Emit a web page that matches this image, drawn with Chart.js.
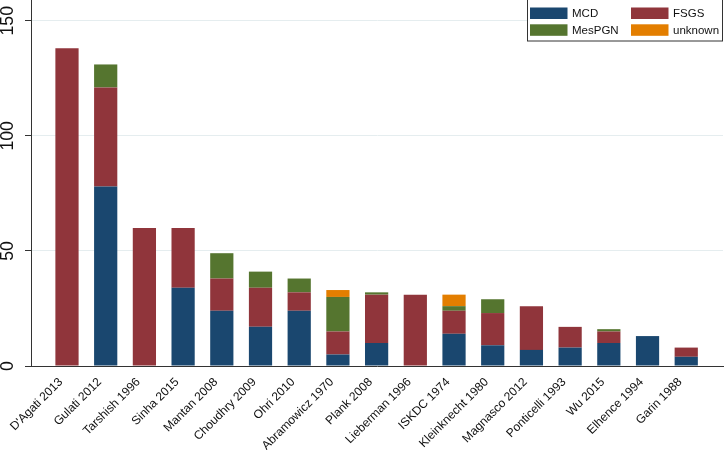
<!DOCTYPE html>
<html>
<head>
<meta charset="utf-8">
<script src="https://cdn.jsdelivr.net/npm/chart.js@4.4.1/dist/chart.umd.min.js"></script>
<style>
  html, body { margin: 0; padding: 0; background: #fff; }
  #chart { display: block; }
</style>
</head>
<body>
<canvas id="chart" width="724" height="450"></canvas>
<script>
// studies, in the order they are plotted
const studies = ["D'Agati 2013", "Gulati 2012", "Tarshish 1996", "Sinha 2015", "Mantan 2008",
  "Choudhry 2009", "Ohri 2010", "Abramowicz 1970", "Plank 2008", "Lieberman 1996",
  "ISKDC 1974", "Kleinknecht 1980", "Magnasco 2012", "Ponticelli 1993", "Wu 2015",
  "Elhence 1994", "Garin 1988"];
const mcd     = [0, 78, 0, 34, 24, 17, 24, 5, 10, 0, 14, 9, 7, 8, 10, 13, 4];
const fsgs    = [138, 43, 60, 26, 14, 17, 8, 10, 21, 31, 10, 14, 19, 9, 5, 0, 4];
const mespgn  = [0, 10, 0, 0, 11, 7, 6, 15, 1, 0, 2, 6, 0, 0, 1, 0, 0];
const unknown = [0, 0, 0, 0, 0, 0, 0, 3, 0, 0, 5, 0, 0, 0, 0, 0, 0];
const yTicks  = [0, 50, 100, 150];

const fam = "'Liberation Sans', Arial, sans-serif";
// pick a size so the text gets the width seen in the picture
function fitSize(text, target) {
  const c = document.createElement("canvas").getContext("2d");
  c.font = "100px " + fam;
  return 100 * target / c.measureText(text).width;
}
const xFont = fitSize("Abramowicz 1970", 96);
const yFont = fitSize("150", 29.5);
const legFont = 11.5;

// legend box in the top right corner, 2 x 2
const boxLegend = {
  id: "boxLegend",
  afterDraw(chart) {
    const ctx = chart.ctx;
    const ds = chart.data.datasets;
    ctx.save();
    ctx.fillStyle = "#fff";
    ctx.fillRect(527, -1, 195, 42);
    ctx.strokeStyle = "#333";
    ctx.lineWidth = 1;
    ctx.strokeRect(527.5, -1, 195, 42);
    ctx.font = legFont + "px " + fam;
    ctx.textBaseline = "middle";
    const cols = [530, 631], rows = [7.5, 24.3];
    ds.forEach((d, i) => {
      const x = cols[i % 2], y = rows[Math.floor(i / 2)];
      ctx.fillStyle = d.backgroundColor;
      ctx.fillRect(x, y, 37.5, 11.5);
      ctx.fillStyle = "#111";
      ctx.fillText(d.label, x + 42, y + 6.3);
    });
    ctx.restore();
  }
};

new Chart(document.getElementById("chart"), {
  type: "bar",
  data: {
    labels: studies.map((s, i) => i),
    datasets: [
      { label: "MCD", data: mcd, backgroundColor: "#1a476f", stack: "s" },
      { label: "FSGS", data: fsgs, backgroundColor: "#90353b", stack: "s" },
      { label: "MesPGN", data: mespgn, backgroundColor: "#55752f", stack: "s" },
      { label: "unknown", data: unknown, backgroundColor: "#e37e00", stack: "s" }
    ]
  },
  options: {
    responsive: false,
    animation: false,
    devicePixelRatio: 1,
    barPercentage: 0.6,
    categoryPercentage: 1,
    borderWidth: 0,
    layout: { padding: { left: 0, right: 1, top: 0, bottom: 0 } },
    plugins: { legend: { display: false }, tooltip: { enabled: false } },
    scales: {
      x: {
        type: "linear",
        offset: false,
        min: -0.93,
        max: 16.95,
        afterFit: s => { s.height = 84; s.paddingLeft = 0; s.paddingRight = 0; },
        grid: { display: false },
        border: { color: "#333", width: 1 },
        ticks: {
          stepSize: 1,
          autoSkip: false,
          includeBounds: false,
          minRotation: 45,
          maxRotation: 45,
          padding: 1,
          labelOffset: -6,
          color: "#111",
          font: { family: fam, size: xFont },
          callback: v => Number.isInteger(v) ? studies[v] : ""
        }
      },
      y: {
        stacked: true,
        min: 0,
        max: 159,
        afterFit: s => { s.width = 31; s.paddingTop = 0; s.paddingBottom = 0; },
        afterBuildTicks: s => { s.ticks = yTicks.map(v => ({ value: v })); },
        grid: { color: "#e5edef", lineWidth: 1, tickColor: "#333", tickLength: 6 },
        border: { color: "#333", width: 1 },
        ticks: {
          minRotation: 90,
          maxRotation: 90,
          crossAlign: "center",
          padding: 2,
          color: "#111",
          font: { family: fam, size: yFont }
        }
      }
    }
  },
  plugins: [boxLegend]
});
</script>
</body>
</html>
